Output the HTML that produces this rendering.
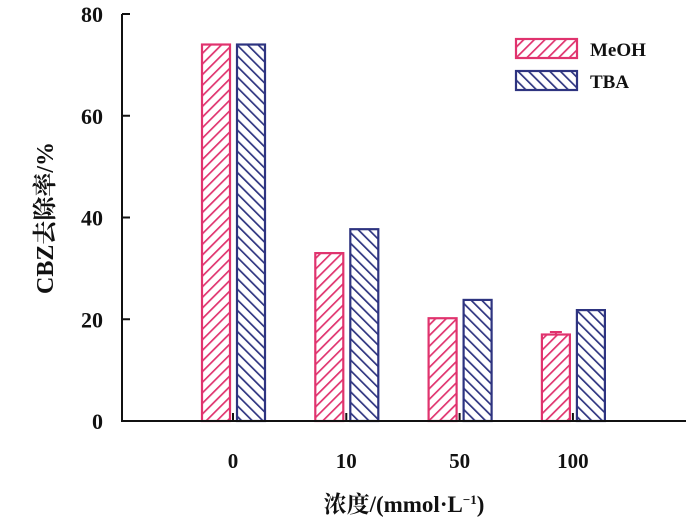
<!DOCTYPE html>
<html><head><meta charset="utf-8"><style>
body{margin:0;background:#fff}
text{font-family:"Liberation Serif","Noto Serif CJK SC",serif;font-weight:bold;fill:#111}
</style></head><body>
<svg id="c" width="700" height="527" xmlns="http://www.w3.org/2000/svg">
<defs>
<pattern id="hp" patternUnits="userSpaceOnUse" width="7.5" height="7.5" patternTransform="rotate(45)"><rect width="7.5" height="7.5" fill="#fff"/><line x1="0" y1="0" x2="0" y2="7.5" stroke="#e0336e" stroke-width="3.4"/></pattern>
<pattern id="hn" patternUnits="userSpaceOnUse" width="7.5" height="7.5" patternTransform="rotate(-45)"><rect width="7.5" height="7.5" fill="#fff"/><line x1="0" y1="0" x2="0" y2="7.5" stroke="#2e3480" stroke-width="3.4"/></pattern>
</defs>
<g id="marks"></g>
<line x1="122" y1="14" x2="122" y2="421" stroke="#111" stroke-width="2"/>
<line x1="121" y1="421" x2="686" y2="421" stroke="#111" stroke-width="2"/>
<g id="ticks"></g>
<text transform="translate(53,218) rotate(-90)" text-anchor="middle" font-size="24">CBZ去除率/%</text>
<text x="404" y="512" text-anchor="middle" font-size="23">浓度/(mmol·L<tspan font-size="13" dy="-8">−1</tspan><tspan dy="8">)</tspan></text>
<g>
<rect x="516" y="39" width="61" height="19" fill="url(#hp)" stroke="#e0336e" stroke-width="2.2"/>
<text x="590" y="56" font-size="19">MeOH</text>
<rect x="516" y="71" width="61" height="19" fill="url(#hn)" stroke="#2e3480" stroke-width="2.2"/>
<text x="590" y="88" font-size="19">TBA</text>
</g>
</svg>
<script>
const categories=["0","10","50","100"];
const meoh=[74,33,20.2,17];
const meohErr=[0,0,0,0.5];
const tba=[74,37.7,23.8,21.8];
const yTicks=[0,20,40,60,80];
const NS="http://www.w3.org/2000/svg";
const y=v=>421-v*(407/80);
const cx=i=>233+i*113.3;
const marks=document.getElementById('marks'),ticks=document.getElementById('ticks');
function mk(tag,attrs,parent){const e=document.createElementNS(NS,tag);for(const k in attrs)e.setAttribute(k,attrs[k]);parent.appendChild(e);return e;}
yTicks.forEach(t=>{
  const l=mk('line',{x1:122,x2:130,y1:y(t),y2:y(t),stroke:'#111','stroke-width':2},ticks);
  
  
  const tx=mk('text',{x:103,y:y(t)+8,'text-anchor':'end','font-size':22},ticks);
  tx.textContent=t;
  
  
});
categories.forEach((c,i)=>{
  const x=cx(i);
  const tk=mk('line',{x1:x,x2:x,y1:413,y2:421,stroke:'#111','stroke-width':2},ticks);
  
  
  const tx=mk('text',{x:x,y:468,'text-anchor':'middle','font-size':21},ticks);
  tx.textContent=c;
  
  
  const b1=mk('rect',{x:x-31,y:y(meoh[i]),width:28,height:421-y(meoh[i]),fill:'url(#hp)',stroke:'#e0336e','stroke-width':2.2},marks);
  
  
  const b2=mk('rect',{x:x+4,y:y(tba[i]),width:28,height:421-y(tba[i]),fill:'url(#hn)',stroke:'#2e3480','stroke-width':2.2},marks);
  
  
  if(meohErr[i]>0){
    const e=mk('path',{d:`M${x-17} ${y(meoh[i])} V${y(meoh[i]+meohErr[i])} M${x-23} ${y(meoh[i]+meohErr[i])} H${x-11}`,stroke:'#e0336e','stroke-width':2,fill:'none'},marks);
    
    
  }
});
</script>
</body></html>
